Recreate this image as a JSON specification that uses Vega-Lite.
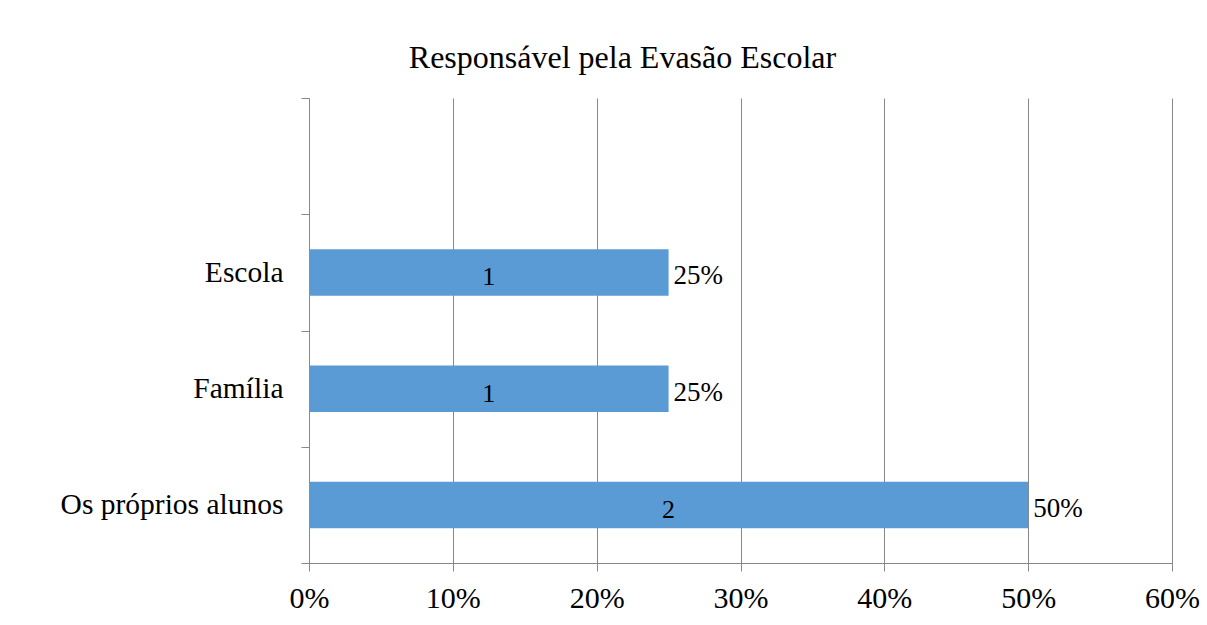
{
  "$schema": "https://vega.github.io/schema/vega-lite/v6.json",
  "width": 863,
  "height": 465,
  "autosize": {"type": "none"},
  "padding": {"left": 309, "top": 98, "right": 35, "bottom": 62},
  "background": "white",
  "title": {
    "text": "Responsável pela Evasão Escolar",
    "font": "Liberation Serif",
    "fontSize": 32,
    "fontWeight": "normal",
    "color": "#000000",
    "anchor": "middle",
    "dx": -118,
    "offset": 8
  },
  "data": {
    "values": [
      {"categoria": "Escola", "pct": 0.25, "n": 1},
      {"categoria": "Família", "pct": 0.25, "n": 1},
      {"categoria": "Os próprios alunos", "pct": 0.5, "n": 2}
    ]
  },
  "encoding": {
    "y": {
      "field": "categoria",
      "type": "nominal",
      "scale": {"domain": ["_vazio", "Escola", "Família", "Os próprios alunos"], "paddingInner": 0, "paddingOuter": 0},
      "axis": {
        "title": null,
        "tickBand": "extent",
        "labelExpr": "datum.value == '_vazio' ? '' : datum.value",
        "labelFont": "Liberation Serif",
        "labelFontSize": 29.5,
        "labelLimit": 500,
        "labelColor": "#000000",
        "labelPadding": 18,
        "tickSize": 8,
        "tickColor": "#888888",
        "domainColor": "#888888",
        "grid": false
      }
    }
  },
  "layer": [
    {
      "mark": {"type": "bar", "color": "#5B9BD5", "height": {"band": 0.4}},
      "encoding": {
        "x": {
          "field": "pct",
          "type": "quantitative",
          "scale": {"domain": [0, 0.6], "nice": false},
          "axis": {
            "title": null,
            "format": ".0%",
            "values": [0, 0.1, 0.2, 0.3, 0.4, 0.5, 0.6],
            "labelFont": "Liberation Serif",
            "labelFontSize": 30,
            "labelFlush": false,
            "labelColor": "#000000",
            "labelPadding": 12,
            "tickSize": 8,
            "tickColor": "#888888",
            "domainColor": "#888888",
            "grid": true,
            "gridColor": "#888888"
          }
        }
      }
    },
    {
      "mark": {"type": "text", "font": "Liberation Serif", "fontSize": 26, "color": "#000000", "align": "center", "dy": 5},
      "encoding": {
        "x": {"field": "pct", "type": "quantitative", "scale": {"domain": [0, 1.2], "nice": false}, "axis": null},
        "text": {"field": "n", "type": "quantitative"}
      }
    },
    {
      "mark": {"type": "text", "font": "Liberation Serif", "fontSize": 27, "color": "#000000", "align": "left", "dx": 5, "dy": 4},
      "encoding": {
        "x": {"field": "pct", "type": "quantitative", "scale": {"domain": [0, 0.6], "nice": false}, "axis": null},
        "text": {"field": "pct", "type": "quantitative", "format": ".0%"}
      }
    }
  ],
  "resolve": {"scale": {"x": "independent"}},
  "config": {"view": {"stroke": null}}
}
